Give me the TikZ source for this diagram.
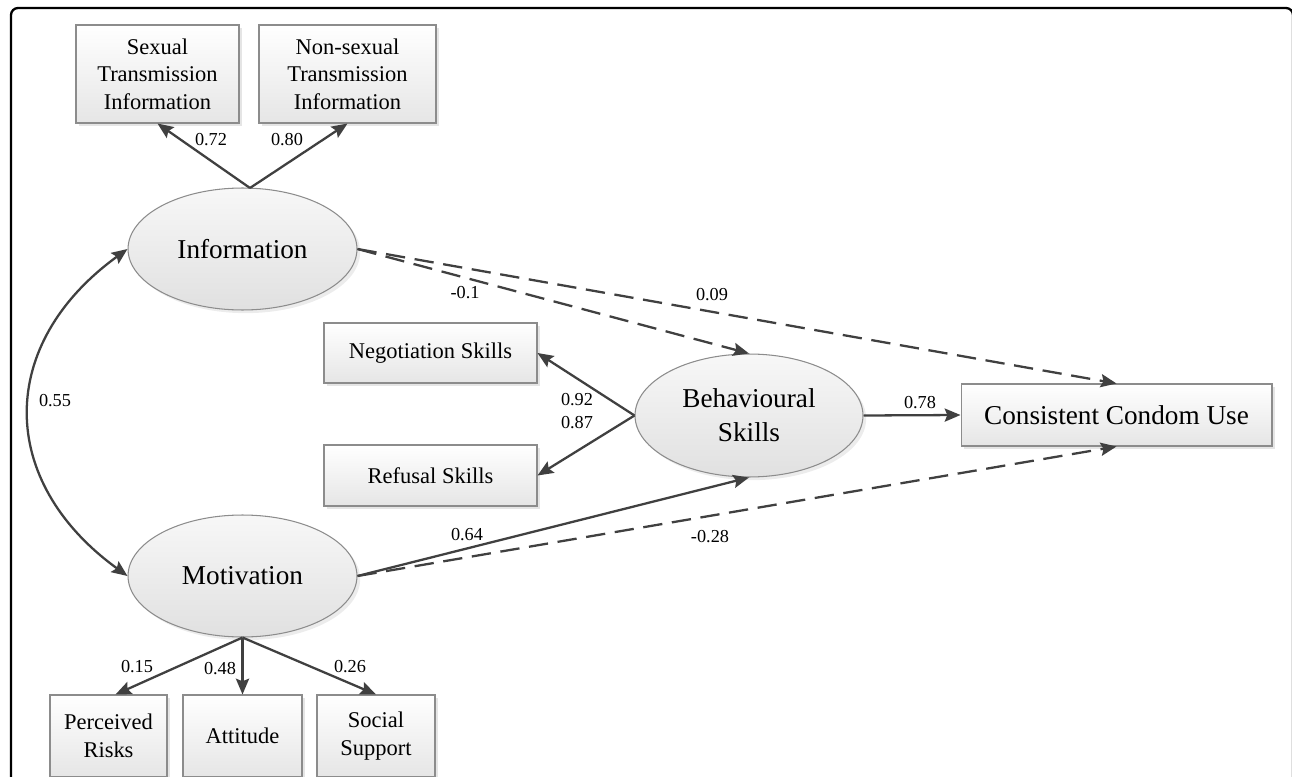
\documentclass[tikz,border=0pt]{standalone}
\usepackage{fontspec}
\setmainfont{Liberation Serif}
\usetikzlibrary{arrows.meta,shadows,calc,shapes.geometric}
\begin{document}
\begin{tikzpicture}[x=0.02cm,y=-0.02cm,
  box/.style={rectangle, draw=black!45, line width=0.6pt, top color=white, bottom color=black!10,
    drop shadow={shadow xshift=1.8pt, shadow yshift=-1.8pt, fill=black!20},
    inner sep=0pt, align=center, font=\fontsize{12.8}{15.6}\selectfont},
  lat/.style={ellipse, draw=black!45, line width=0.6pt, top color=black!3, bottom color=black!12,
    drop shadow={shadow xshift=1.8pt, shadow yshift=-1.8pt, fill=black!15},
    inner sep=0pt, align=center, font=\fontsize{15.5}{19.3}\selectfont,
    minimum width=4.58cm, minimum height=2.44cm},
  conn/.style={draw=black!75, line width=1.3pt, -{Stealth[length=9pt,width=7.5pt,inset=1.5pt]}},
  dconn/.style={conn, dash pattern=on 11pt off 5.5pt},
  num/.style={font=\fontsize{10.4}{12}\selectfont, inner sep=0pt},
]
\useasboundingbox (0,0) rectangle (1292,777);
\clip (0,0) rectangle (1292,777);

% frame
\draw[line width=1.3pt, rounded corners=4pt] (11,800) -- (11,8) -- (1293,8) -- (1293,800);

% nodes
\node[box, minimum width=3.26cm, minimum height=1.96cm] (st) at (157.5,74) {Sexual\\Transmission\\Information};
\node[box, minimum width=3.54cm, minimum height=1.96cm] (nst) at (347.5,74) {Non-sexual\\Transmission\\Information};
\node[lat] (info) at (242.5,249) {Information};
\node[lat] (mot) at (242.5,576) {Motivation};
\node[box, minimum width=4.26cm, minimum height=1.2cm] (neg) at (430.5,353) {Negotiation Skills};
\node[box, minimum width=4.26cm, minimum height=1.22cm] (ref) at (430.5,475.5) {Refusal Skills};
\node[lat, minimum width=4.56cm, minimum height=2.46cm] (beh) at (749,415.5) {Behavioural\\Skills};
\node[box, minimum width=6.22cm, minimum height=1.24cm, font=\fontsize{15.5}{19}\selectfont] (ccu) at (1116.5,415) {Consistent Condom Use};
\node[box, minimum width=2.34cm, minimum height=1.64cm] (pr) at (108.5,736) {Perceived\\Risks};
\node[box, minimum width=2.38cm, minimum height=1.64cm] (att) at (242.5,736) {Attitude};
\node[box, minimum width=2.36cm, minimum height=1.64cm] (ss) at (376,736) {Social\\Support};

% information indicators
\coordinate (itop) at (250,188);
\draw[conn] (itop) -- (st.south);
\draw[conn] (itop) -- (nst.south);
\node[num] (l072) at (211,140) {0.72};
\node[num] (l080) at (287,140) {0.80};

% covariance
\draw[draw=black!75, line width=1.3pt, {Stealth[length=9pt,width=7.5pt,inset=1.5pt]}-{Stealth[length=9pt,width=7.5pt,inset=1.5pt]}]
  (info.west) .. controls +(-131,95) and +(-131,-95) .. (mot.west);
\node[num] (l055) at (55,401) {0.55};

% structural paths
\draw[dconn] (info.east) -- (beh.north);
\node[num] (l01) at (465,293) {-0.1};
\draw[dconn] (info.east) -- (ccu.north);
\node[num] (l009) at (712,295) {0.09};
\draw[conn] (mot.east) -- (beh.south);
\node[num] (l064) at (467,535) {0.64};
\draw[dconn] (mot.east) -- (ccu.south);
\node[num] (l028) at (710,537) {-0.28};
\draw[conn] (beh.east) -- (ccu.west);
\node[num] (l078) at (920,403) {0.78};

% behavioural skill indicators
\draw[conn] (beh.west) -- (neg.east);
\draw[conn] (beh.west) -- (ref.east);
\node[num] (l092) at (577,400) {0.92};
\node[num] (l087) at (577,423) {0.87};

% motivation indicators
\draw[conn] (mot.south) -- ($(pr.north)+(7,0)$);
\draw[conn] (mot.south) -- (att.north);
\draw[conn] (mot.south) -- (ss.north);
\node[num] (l015) at (137,667) {0.15};
\node[num] (l048) at (220,669) {0.48};
\node[num] (l026) at (350,667) {0.26};
\end{tikzpicture}
\end{document}
